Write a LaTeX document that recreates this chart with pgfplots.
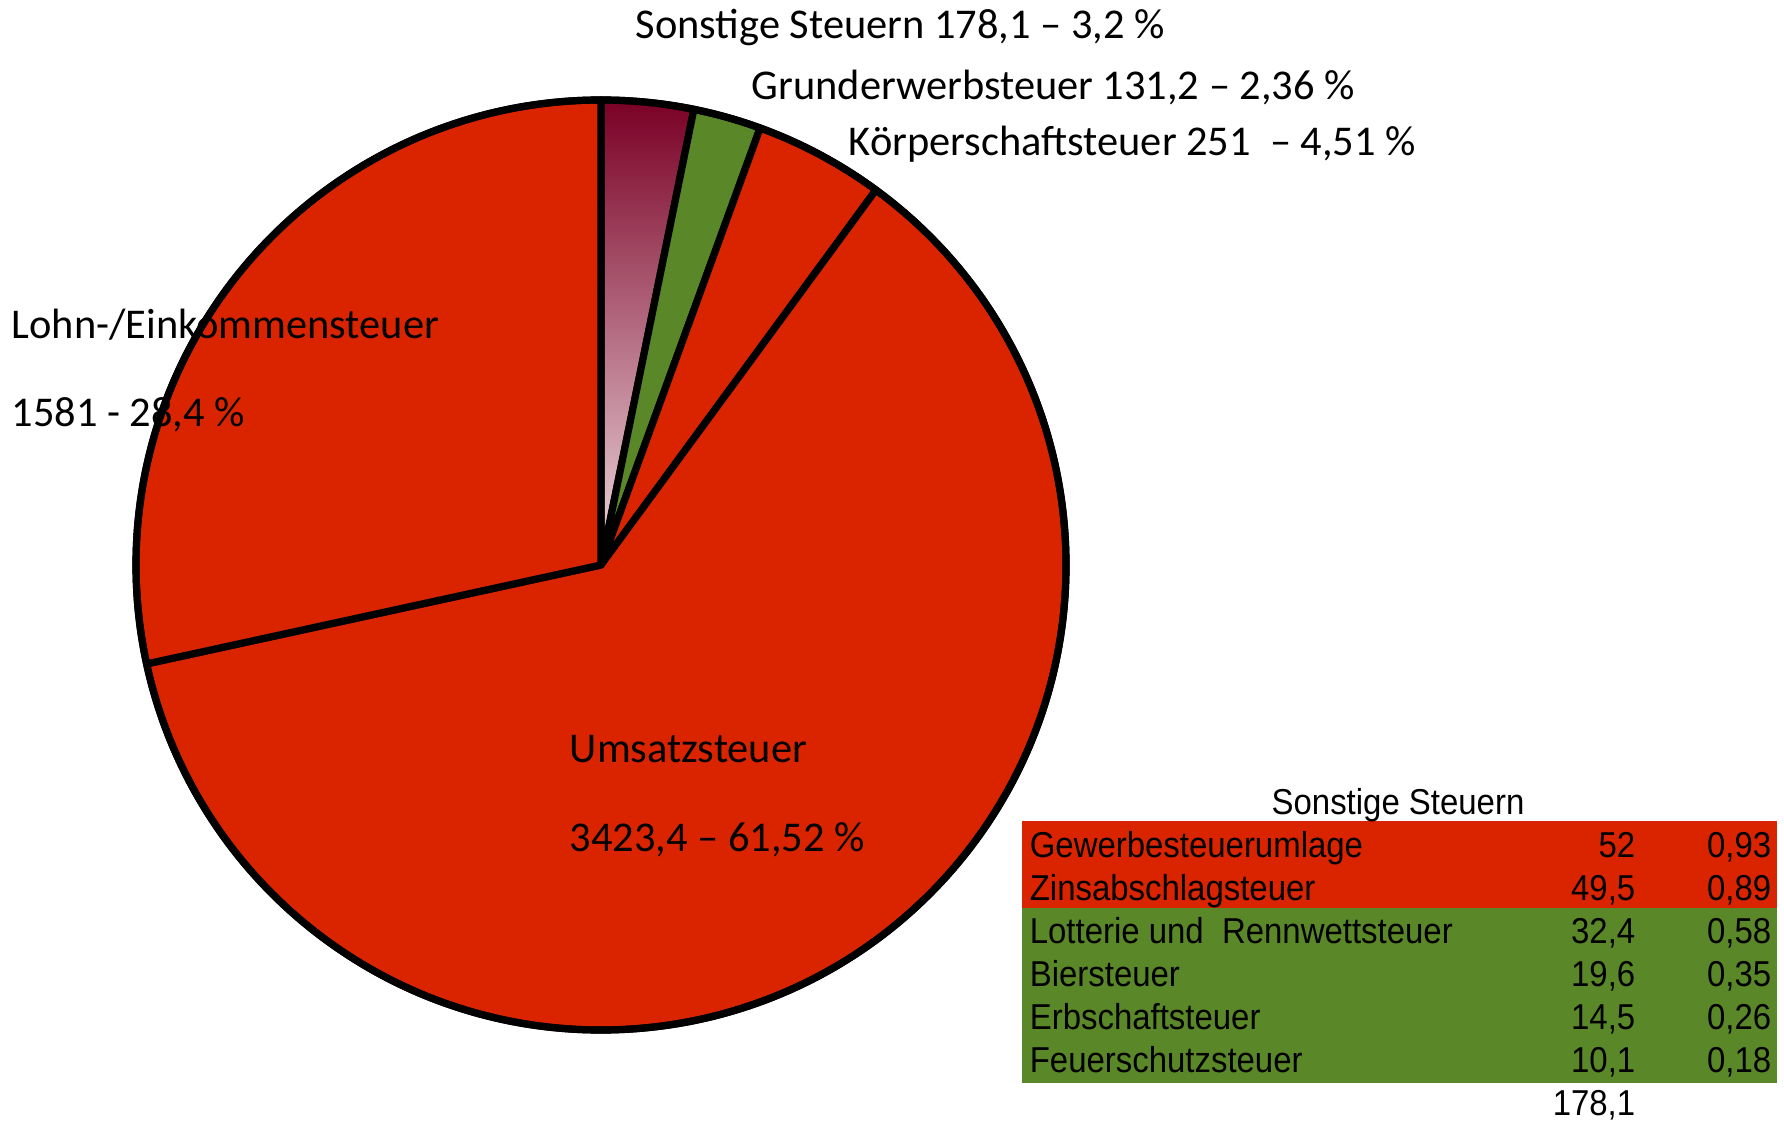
\documentclass[border=0pt]{standalone}
\usepackage{pgfplots}
\usepackage{pgfplotstable}
\pgfplotsset{compat=1.18}
\usepackage{fontspec}
\setmainfont{Carlito}
\newfontfamily\tabfont[FakeStretch=0.915]{Liberation Sans}
\definecolor{pred}{RGB}{218,36,0}
\definecolor{pgreen}{RGB}{90,135,40}
\definecolor{sdark}{RGB}{122,0,38}
\definecolor{slight}{RGB}{238,218,223}
\tikzset{
  sonst/.style={top color=sdark,bottom color=slight},
  gr/.style={fill=pgreen},
  rd/.style={fill=pred}
}
\pgfplotstableread{
name value sty
Sonstige 178.1 sonst
Grunderwerb 131.2 gr
Koerperschaft 251 rd
Umsatz 3423.4 rd
Lohn 1581 rd
}\piedata
\begin{document}
\begin{tikzpicture}
\begin{axis}[x=0.25pt,y=0.25pt,xmin=0,xmax=1784,ymin=0,ymax=1124,
  hide axis,clip=false,scale only axis]
\path (axis cs:0,0) rectangle (axis cs:1784,1124);
\def\cur{90}
\pgfplotsforeachungrouped \i in {0,...,4}{%
  \pgfplotstablegetelem{\i}{value}\of\piedata \let\v=\pgfplotsretval
  \pgfplotstablegetelem{\i}{sty}\of\piedata \let\c=\pgfplotsretval
  \pgfmathsetmacro\dl{\v/5564.7*360}%
  \pgfmathsetmacro\nxt{\cur-\dl}%
  \edef\temp{\noexpand\path[\c,draw=black,line width=1.8pt,line join=round] (axis cs:601,559) -- ++(\cur:116.25pt) arc[start angle=\cur, end angle=\nxt, radius=116.25pt] -- cycle;}%
  \temp
  \global\let\cur=\nxt
}
\draw[black,line width=1.8pt] (axis cs:601,559) circle[radius=116.25pt];
% labels
\begin{scope}[every node/.style={inner sep=0pt,anchor=base west,font=\fontsize{10.6}{12}\selectfont}]
\node at (axis cs:635,1085) {Sonstige Steuern 178,1 – 3,2 \%};
\node at (axis cs:751,1024) {Grunderwerbsteuer 131,2 – 2,36 \%};
\node at (axis cs:848,968) {Körperschaftsteuer 251\ \ – 4,51 \%};
\node at (axis cs:11,785) {Lohn-/Einkommensteuer};
\node at (axis cs:11,697) {1581 - 28,4 \%};
\node at (axis cs:569,362) {Umsatzsteuer};
\node at (axis cs:569,273) {3423,4 – 61,52 \%};
\end{scope}
% table
\fill[pred] (axis cs:1022,303) rectangle (axis cs:1777,216);
\fill[pgreen] (axis cs:1022,216) rectangle (axis cs:1777,41);
\begin{scope}[every node/.style={inner sep=0pt,font=\tabfont\fontsize{9}{10}\selectfont}]
\node[anchor=base] at (axis cs:1398,310) {Sonstige Steuern};
\node[anchor=base west] at (axis cs:1029,267) {Gewerbesteuerumlage};
\node[anchor=base west] at (axis cs:1029,224) {Zinsabschlagsteuer};
\node[anchor=base west] at (axis cs:1029,181) {Lotterie und\ \ Rennwettsteuer};
\node[anchor=base west] at (axis cs:1029,138) {Biersteuer};
\node[anchor=base west] at (axis cs:1029,95) {Erbschaftsteuer};
\node[anchor=base west] at (axis cs:1029,52) {Feuerschutzsteuer};
\node[anchor=base east] at (axis cs:1636,267) {52};
\node[anchor=base east] at (axis cs:1636,224) {49,5};
\node[anchor=base east] at (axis cs:1636,181) {32,4};
\node[anchor=base east] at (axis cs:1636,138) {19,6};
\node[anchor=base east] at (axis cs:1636,95) {14,5};
\node[anchor=base east] at (axis cs:1636,52) {10,1};
\node[anchor=base east] at (axis cs:1772,267) {0,93};
\node[anchor=base east] at (axis cs:1772,224) {0,89};
\node[anchor=base east] at (axis cs:1772,181) {0,58};
\node[anchor=base east] at (axis cs:1772,138) {0,35};
\node[anchor=base east] at (axis cs:1772,95) {0,26};
\node[anchor=base east] at (axis cs:1772,52) {0,18};
\node[anchor=base east] at (axis cs:1636,9) {178,1};
\end{scope}
\end{axis}
\end{tikzpicture}
\end{document}
